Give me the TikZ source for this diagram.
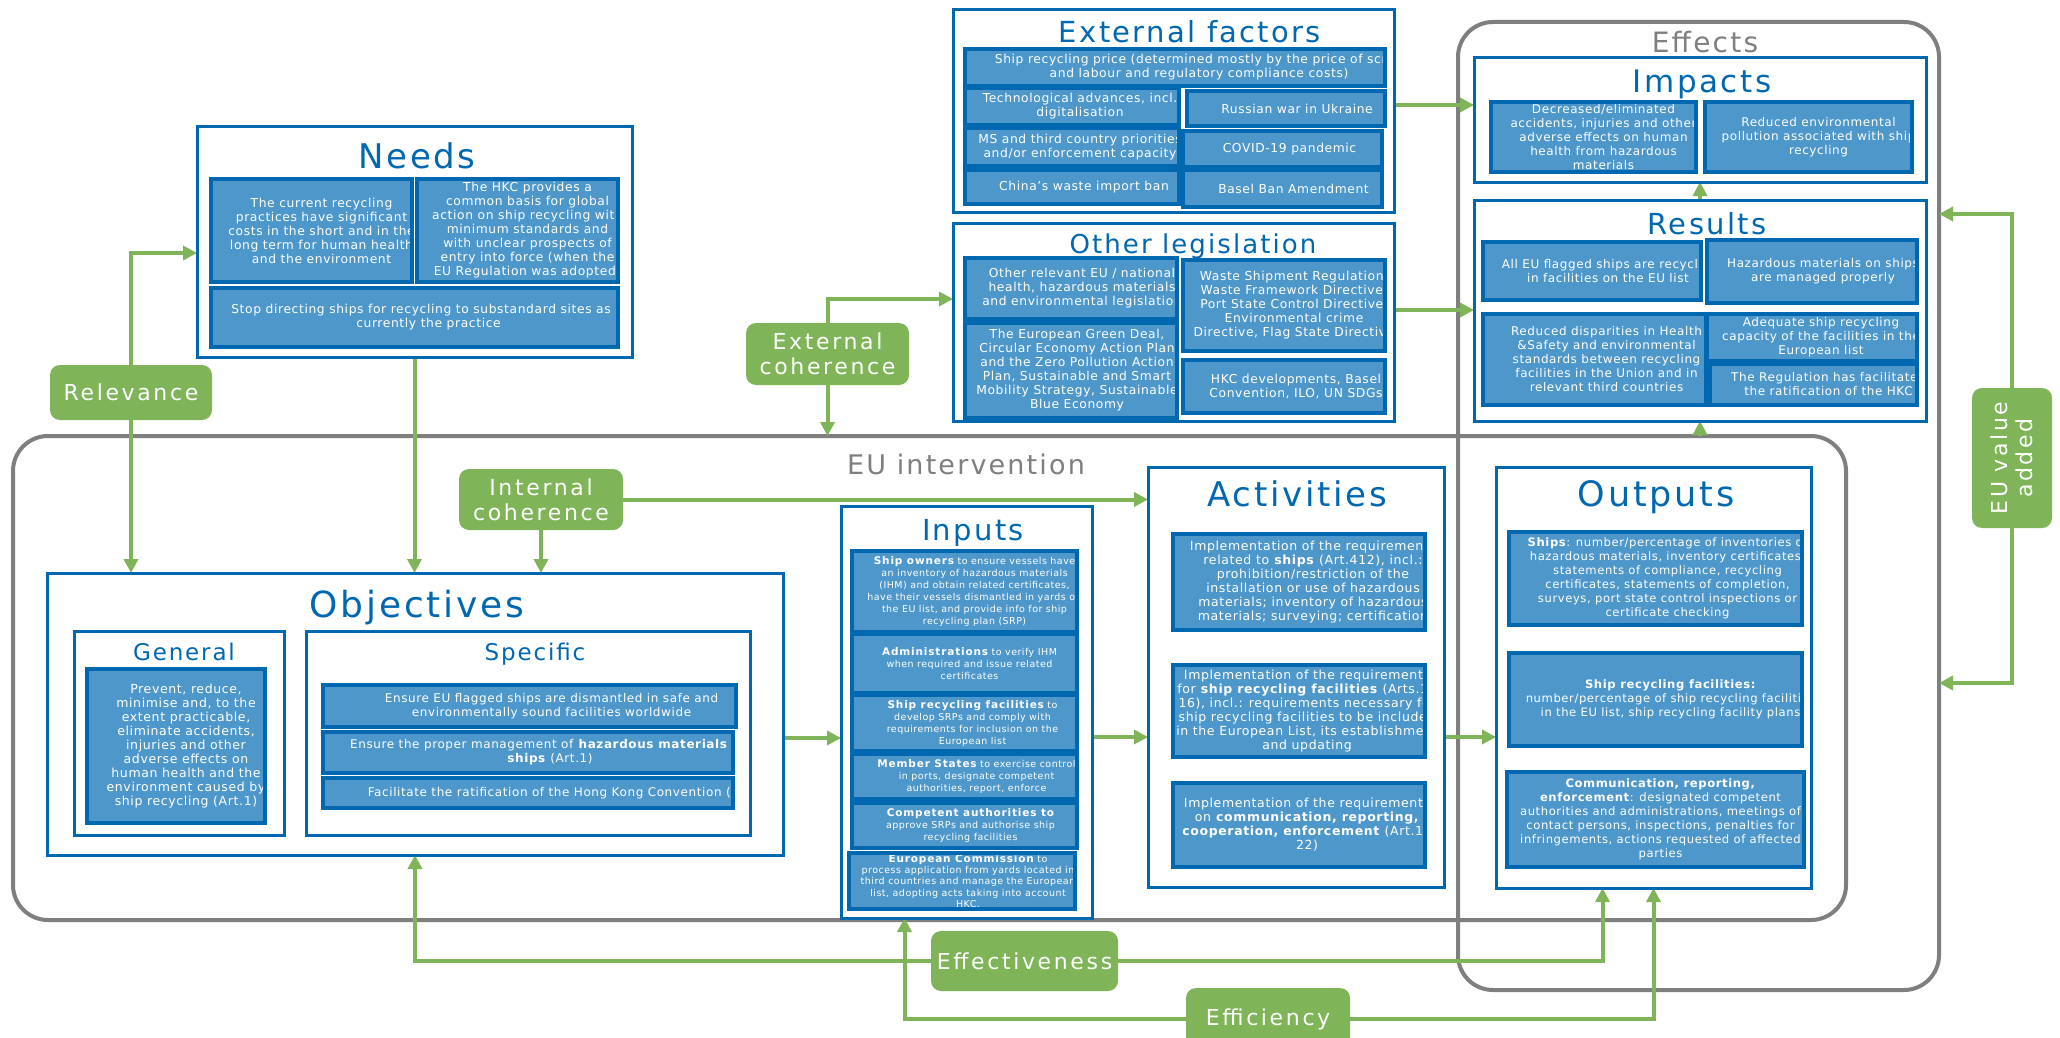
\documentclass[tikz,border=0pt]{standalone}
\usepackage{fontspec}
\setmainfont[LetterSpace=5]{DejaVu Sans}
\newfontfamily\ttlfont[LetterSpace=8]{DejaVu Sans}
\newfontfamily\lblfont[LetterSpace=12]{DejaVu Sans}
\usetikzlibrary{arrows.meta}
\definecolor{dblue}{HTML}{0068B1}
\definecolor{mblue}{HTML}{4E97CA}
\definecolor{ggreen}{HTML}{7FB458}
\definecolor{grayline}{HTML}{7F7F7F}
\pgfdeclarelayer{background}
\pgfsetlayers{background,main}
\newcommand\fsz[2]{\fontsize{#1}{#2}\selectfont}
\newcommand\hd[1]{{\ttlfont\bfseries\fsz{10.5}{11.5}#1}}
% inner blue box: name x1 y1 x2 y2 dx font text
\newcommand\ibx[8]{%
  \node[ibox, minimum width={(#4-#2)*1pt}, minimum height={(#5-#3)*1pt},
    path picture={\node[itext, font=#7] (#1t) at ([xshift=#6pt]path picture bounding box.center) {#8};}]
    (#1) at ({(#2+#4)/2},{(#3+#5)/2}) {};}
% outer container: name x1 y1 x2 y2
\newcommand\obx[5]{%
  \node[obox, minimum width={(#4-#2)*1pt}, minimum height={(#5-#3)*1pt}]
    (#1) at ({(#2+#4)/2},{(#3+#5)/2}) {};}
\begin{document}
\begin{tikzpicture}[x=1pt,y=-1pt,
  ibox/.style={draw=dblue, fill=mblue, line width=4pt, inner sep=0pt, outer sep=0pt},
  obox/.style={draw=dblue, fill=white, line width=3pt, inner sep=0pt, outer sep=0pt},
  gbox/.style={draw=grayline, line width=4pt, rounded corners=35pt, inner sep=0pt, outer sep=0pt},
  glabel/.style={fill=ggreen, rounded corners=10pt, text=white, align=center, inner sep=0pt, outer sep=0pt, font=\lblfont\fsz{22}{25}},
  garrow/.style={draw=ggreen, line width=4pt, -{Triangle[length=14pt,width=14pt]}},
  ttl/.style={text=dblue, anchor=base, inner sep=0pt},
  gttl/.style={text=grayline, anchor=base, inner sep=0pt},
  itext/.style={text=white, align=center, inner sep=0pt}]
\useasboundingbox (0,0) rectangle (2060,1038);
\begin{pgfonlayer}{background}
\fill[white] (0,0) rectangle (2060,1038);
\node[gbox, minimum width=481pt, minimum height=968pt] (effects) at (1698.5,506) {};
\node[gbox, minimum width=1833pt, minimum height=484pt] (euint) at (929.5,678) {};
\end{pgfonlayer}
\node[gttl, font=\ttlfont\fsz{28}{32}] (effectsT) at (1705,53) {Effects};
\node[gttl, font=\ttlfont\fsz{27}{31}] (euintT) at (966,474) {EU intervention};

% Needs
\obx{needs}{197}{127}{632}{357}
\node[ttl, font=\ttlfont\fsz{34}{38}] (needsT) at (417,168) {Needs};
\ibx{n1}{211}{179}{412}{282}{10}{\fsz{12.3}{14}}{The current recycling\\practices have significant\\costs in the short and in the\\long term for human health\\and the environment}
\ibx{n2}{417}{179}{618}{282}{10}{\fsz{12.3}{14}}{The HKC provides a\\common basis for global\\action on ship recycling with\\minimum standards and\\with unclear prospects of\\entry into force (when the\\EU Regulation was adopted)}
\ibx{n3}{211}{288}{618}{347}{14}{\fsz{12.3}{14}}{Stop directing ships for recycling to substandard sites as is\\currently the practice}

% External factors
\obx{extf}{953}{10}{1394}{212}
\node[ttl, font=\ttlfont\fsz{29}{33}] (extfT) at (1190,43) {External factors};
\ibx{e1}{965}{49}{1385}{86}{24}{\fsz{12.3}{14}}{Ship recycling price (determined mostly by the price of scrap\\and labour and regulatory compliance costs)}
\ibx{e2}{965}{88}{1179}{125}{8}{\fsz{12.3}{14}}{Technological advances, incl.\\digitalisation}
\ibx{e3}{1187}{91}{1385}{126}{11}{\fsz{12.3}{14}}{Russian war in Ukraine}
\ibx{e4}{965}{128}{1179}{166}{8}{\fsz{12.3}{14}}{MS and third country priorities\\and/or enforcement capacity}
\ibx{e5}{1183}{131}{1382}{167}{7}{\fsz{12.3}{14}}{COVID-19 pandemic}
\ibx{e6}{965}{170}{1179}{204}{12}{\fsz{12.3}{14}}{China’s waste import ban}
\ibx{e7}{1183}{170}{1382}{207}{11}{\fsz{12.3}{14}}{Basel Ban Amendment}

% Other legislation
\obx{othleg}{953}{223}{1394}{421}
\node[ttl, font=\ttlfont\fsz{26}{30}] (othlegT) at (1193,253) {Other legislation};
\ibx{l1}{965}{258}{1177}{319}{11}{\fsz{12.3}{14}}{Other relevant EU / national\\health, hazardous materials\\and environmental legislation}
\ibx{l2}{965}{323}{1177}{418}{6}{\fsz{12.3}{14}}{The European Green Deal,\\Circular Economy Action Plan\\and the Zero Pollution Action\\Plan, Sustainable and Smart\\Mobility Strategy, Sustainable\\Blue Economy}
\ibx{l3}{1183}{260}{1385}{351}{10}{\fsz{12.3}{14}}{Waste Shipment Regulation,\\Waste Framework Directive,\\Port State Control Directive,\\Environmental crime\\Directive, Flag State Directive}
\ibx{l4}{1183}{360}{1385}{413}{12}{\fsz{12.3}{14}}{HKC developments, Basel\\Convention, ILO, UN SDGs}

% Impacts
\obx{impacts}{1474}{58}{1926}{182}
\node[ttl, font=\ttlfont\fsz{31}{35}] (impactsT) at (1702,93) {Impacts};
\ibx{im1}{1491}{102}{1696}{172}{10}{\fsz{12}{14}}{Decreased/eliminated\\accidents, injuries and other\\adverse effects on human\\health from hazardous\\materials}
\ibx{im2}{1705}{102}{1912}{172}{10}{\fsz{12}{14}}{Reduced environmental\\pollution associated with ship\\recycling}

% Results
\obx{results}{1474}{200}{1926}{421}
\node[ttl, font=\ttlfont\fsz{29}{33}] (resultsT) at (1707,234) {Results};
\ibx{r1}{1483}{242}{1701}{300}{16}{\fsz{12}{14}}{All EU flagged ships are recycled\\in facilities on the EU list}
\ibx{r2}{1707}{240}{1917}{303}{11}{\fsz{12}{14}}{Hazardous materials on ships\\are managed properly}
\ibx{r3}{1483}{314}{1706}{405}{12}{\fsz{12}{14}}{Reduced disparities in Health\\\&Safety and environmental\\standards between recycling\\facilities in the Union and in\\relevant third countries}
\ibx{r4}{1707}{314}{1917}{361}{9}{\fsz{12}{14}}{Adequate ship recycling\\capacity of the facilities in the\\European list}
\ibx{r5}{1710}{364}{1917}{405}{15}{\fsz{12}{14}}{The Regulation has facilitated\\the ratification of the HKC}

% Objectives
\obx{objectives}{47}{573}{783}{855}
\node[ttl, font=\ttlfont\fsz{36}{40}] (objectivesT) at (417,617) {Objectives};
\obx{general}{74}{631}{284}{835}
\node[ttl, font=\ttlfont\fsz{23}{27}] (generalT) at (184,660) {General};
\obx{specific}{306}{631}{750}{835}
\node[ttl, font=\ttlfont\fsz{23}{27}] (specificT) at (535,660) {Specific};
\ibx{g1}{87}{669}{265}{823}{10}{\fsz{12.5}{14}}{Prevent, reduce,\\minimise and, to the\\extent practicable,\\eliminate accidents,\\injuries and other\\adverse effects on\\human health and the\\environment caused by\\ship recycling (Art.1)}
\ibx{s1}{323}{685}{736}{727}{22}{\fsz{12}{14}}{Ensure EU flagged ships are dismantled in safe and\\environmentally sound facilities worldwide}
\ibx{s2}{323}{732}{733}{773}{22}{\fsz{12}{14}}{Ensure the proper management of \textbf{hazardous materials on}\\\textbf{ships} (Art.1)}
\ibx{s3}{323}{778}{733}{808}{40}{\fsz{12}{14}}{Facilitate the ratification of the Hong Kong Convention (Art.1)}

% Inputs
\obx{inputs}{841}{506}{1092}{918}
\node[ttl, font=\ttlfont\fsz{29}{33}] (inputsT) at (973,540) {Inputs};
\ibx{i1}{852}{551}{1077}{632}{10}{\fsz{9.5}{12}}{\hd{Ship owners} to ensure vessels have\\an inventory of hazardous materials\\(IHM) and obtain related certificates,\\have their vessels dismantled in yards on\\the EU list, and provide info for ship\\recycling plan (SRP)}
\ibx{i2}{852}{634}{1077}{693}{5}{\fsz{9.5}{12}}{\hd{Administrations} to verify IHM\\when required and issue related\\certificates}
\ibx{i3}{852}{695}{1077}{751}{8}{\fsz{9.5}{12}}{\hd{Ship recycling facilities} to\\develop SRPs and comply with\\requirements for inclusion on the\\European list}
\ibx{i4}{852}{754}{1077}{799}{12}{\fsz{9.5}{12}}{\hd{Member States} to exercise control\\in ports, designate competent\\authorities, report, enforce}
\ibx{i5}{852}{803}{1077}{848}{6}{\fsz{9.5}{12}}{\hd{Competent authorities to}\\approve SRPs and authorise ship\\recycling facilities}
\ibx{i6}{849}{853}{1075}{909}{6}{\fsz{9.5}{11.3}}{\hd{European Commission} to\\process application from yards located in\\third countries and manage the European\\list, adopting acts taking into account\\HKC.}

% Activities
\obx{activities}{1148}{467}{1444}{887}
\node[ttl, font=\ttlfont\fsz{34}{38}] (activitiesT) at (1297,506) {Activities};
\ibx{a1}{1173}{534}{1425}{630}{14}{\fsz{12.5}{14}}{Implementation of the requirements\\related to \textbf{ships} (Art.412), incl.:\\prohibition/restriction of the\\installation or use of hazardous\\materials; inventory of hazardous\\materials; surveying; certification}
\ibx{a2}{1173}{665}{1425}{757}{8}{\fsz{12.5}{14}}{Implementation of the requirements\\for \textbf{ship recycling facilities} (Arts.13\\16), incl.: requirements necessary for\\ship recycling facilities to be included\\in the European List, its establishment\\and updating}
\ibx{a3}{1173}{783}{1425}{867}{8}{\fsz{12.5}{14}}{Implementation of the requirements\\on \textbf{communication, reporting,}\\\textbf{cooperation, enforcement} (Art.18\\22)}

% Outputs
\obx{outputs}{1496}{467}{1811}{888}
\node[ttl, font=\ttlfont\fsz{35}{39}] (outputsT) at (1656,506) {Outputs};
\ibx{o1}{1509}{532}{1802}{625}{12}{\fsz{11.6}{14}}{\textbf{Ships}: number/percentage of inventories of\\hazardous materials, inventory certificates,\\statements of compliance, recycling\\certificates, statements of completion,\\surveys, port state control inspections or\\certificate checking}
\ibx{o2}{1509}{653}{1802}{746}{15}{\fsz{11.6}{14}}{\textbf{Ship recycling facilities:}\\number/percentage of ship recycling facilities\\in the EU list, ship recycling facility plans}
\ibx{o3}{1507}{772}{1804}{867}{5}{\fsz{11.6}{14}}{\textbf{Communication, reporting,}\\\textbf{enforcement}: designated competent\\authorities and administrations, meetings of\\contact persons, inspections, penalties for\\infringements, actions requested of affected\\parties}

% Green evaluation labels
\node[glabel, minimum width=162pt, minimum height=55pt] (relevance) at (131,392.5) {Relevance};
\node[glabel, minimum width=164pt, minimum height=61pt] (intcoh) at (541,499.5) {Internal\\coherence};
\node[glabel, minimum width=163pt, minimum height=62pt] (extcoh) at (827.5,354) {External\\coherence};
\node[glabel, minimum width=187pt, minimum height=60pt] (effectiveness) at (1024.5,961) {Effectiveness};
\node[glabel, minimum width=164pt, minimum height=62pt] (efficiency) at (1268,1019) {Efficiency};
\node[glabel, minimum width=80pt, minimum height=140pt] (euva) at (2012,458) {};
\node[rotate=90, text=white, align=center, font=\lblfont\fsz{22}{25}, inner sep=0pt] (euvaT) at (euva.center) {EU value\\added};

% Connectors
\begin{pgfonlayer}{background}
\draw[garrow] (relevance.north) |- ([yshift=-11pt]needs.west);
\draw[garrow] (relevance.south) -- (relevance.south |- objectives.north);
\draw[garrow] (needs.south) -- (needs.south |- objectives.north);
\draw[garrow] (intcoh.south) -- (intcoh.south |- objectives.north);
\draw[garrow] (intcoh.east) -- (intcoh.east -| activities.west);
\draw[garrow] (extcoh.north) |- ([yshift=23pt]othleg.west);
\draw[garrow] (extcoh.south) -- (extcoh.south |- euint.north);
\draw[garrow] ([yshift=6pt]extf.east) -- ([yshift=6pt]extf.east -| impacts.west);
\draw[garrow] ([yshift=12pt]othleg.east) -- ([yshift=12pt]othleg.east -| results.west);
\draw[garrow] (results.north) -- (impacts.south);
\coordinate (outres) at (results.south |- euint.north);
\draw[garrow] (outres) -- (results.south);
\draw[garrow] (euva.north) |- ([yshift=292pt]effects.east);
\draw[garrow] (euva.south) |- ([yshift=-177pt]effects.east);
\draw[garrow] ([yshift=-24pt]objectives.east) -- ([yshift=-24pt]objectives.east -| inputs.west);
\draw[garrow] ([yshift=-25pt]inputs.east) -- ([yshift=-25pt]inputs.east -| activities.west);
\draw[garrow] ([yshift=-60pt]activities.east) -- ([yshift=-60pt]activities.east -| outputs.west);
\draw[garrow] (effectiveness.west) -| (objectives.south);
\draw[garrow] (effectiveness.east) -| ([xshift=-51pt]outputs.south);
\draw[garrow] (efficiency.west) -| ([xshift=-62pt]inputs.south);
\draw[garrow] (efficiency.east) -| (outputs.south);
\end{pgfonlayer}
\end{tikzpicture}
\end{document}
